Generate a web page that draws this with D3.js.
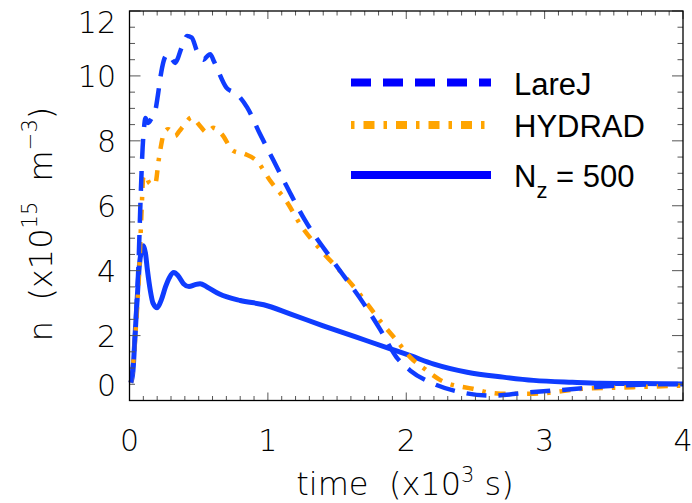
<!DOCTYPE html>
<html>
<head>
<meta charset="utf-8">
<script src="https://cdn.jsdelivr.net/npm/d3@7"></script>
<style>
  body { margin: 0; background: #fff; }
  .axis-font { font-family: "DejaVu Sans", sans-serif; font-weight: 200; fill: #000; }
  .legend-font { font-family: "Liberation Sans", Arial, sans-serif; fill: #000; }
</style>
</head>
<body>
<svg id="chart" width="692" height="503"></svg>
<script>
// ---------------------------------------------
//  Data, time in 10^3 s, n in 10^15 m^-3
// ---------------------------------------------
const timeLareJ = [0.01, 0.03, 0.05, 0.065, 0.08, 0.095, 0.105, 0.115, 0.135, 0.16, 0.185, 0.205, 0.225, 0.246, 0.27, 0.29, 0.31, 0.33, 0.35, 0.37, 0.39, 0.415, 0.45, 0.487, 0.51, 0.535, 0.56, 0.583, 0.61, 0.63, 0.70, 0.776, 0.85, 0.944, 1.04, 1.16, 1.27, 1.47, 1.69, 1.81, 1.93, 2.03, 2.20, 2.39, 2.61, 2.92, 3.23, 3.52, 4.0];
const nLareJ    = [0.55, 1.3, 2.8, 4.2, 6.2, 7.8, 8.4, 8.7, 8.55, 8.7, 8.9, 9.4, 10.0, 10.45, 10.65, 10.67, 10.5, 10.4, 10.55, 10.8, 11.0, 11.23, 11.18, 10.77, 10.6, 10.5, 10.6, 10.67, 10.45, 10.26, 9.64, 9.44, 9.03, 8.2, 7.4, 6.4, 5.54, 4.3, 3.0, 2.2, 1.33, 0.92, 0.51, 0.26, 0.15, 0.26, 0.36, 0.46, 0.51];

const timeHydrad = [0.01, 0.03, 0.05, 0.07, 0.085, 0.1, 0.115, 0.14, 0.165, 0.186, 0.21, 0.23, 0.246, 0.28, 0.33, 0.36, 0.39, 0.45, 0.50, 0.56, 0.607, 0.668, 0.75, 0.836, 0.92, 1.017, 1.14, 1.23, 1.40, 1.52, 1.66, 1.81, 1.93, 2.03, 2.14, 2.25, 2.48, 2.68, 2.92, 3.28, 3.64, 4.0];
const nHydrad    = [0.55, 1.3, 2.5, 4.0, 5.6, 6.87, 6.95, 6.72, 6.65, 6.67, 7.38, 7.9, 8.2, 8.36, 8.15, 8.3, 8.46, 8.72, 8.51, 8.26, 8.4, 8.2, 7.69, 7.59, 7.38, 6.77, 6.1, 5.45, 4.55, 4.0, 3.3, 2.46, 1.85, 1.33, 0.95, 0.62, 0.36, 0.21, 0.21, 0.36, 0.41, 0.46];

const timeNz = [0.01, 0.025, 0.04, 0.055, 0.07, 0.085, 0.10, 0.115, 0.13, 0.15, 0.17, 0.20, 0.23, 0.26, 0.29, 0.32, 0.35, 0.39, 0.43, 0.47, 0.51, 0.56, 0.65, 0.80, 0.97, 1.16, 1.40, 1.64, 1.88, 2.03, 2.20, 2.44, 2.70, 2.92, 3.20, 3.40, 3.70, 4.00];
const nNz    = [0.55, 0.9, 2.0, 3.1, 4.1, 4.6, 4.77, 4.55, 4.0, 3.4, 3.0, 2.86, 3.1, 3.5, 3.8, 3.94, 3.85, 3.6, 3.51, 3.56, 3.6, 3.5, 3.28, 3.08, 2.95, 2.67, 2.3, 1.95, 1.6, 1.38, 1.12, 0.87, 0.72, 0.62, 0.56, 0.53, 0.52, 0.51];

const xTicks = [0, 1, 2, 3, 4];
const yTicks = [0, 2, 4, 6, 8, 10, 12];

const series = [
  { name: "HYDRAD", t: timeHydrad, n: nHydrad, color: "#ff9f00", legendColor: "#ffa500", dash: "11,9,3.5,9" },
  { name: "LareJ",  t: timeLareJ,  n: nLareJ,  color: "#0f3cff", legendColor: "#0000ff", dash: "20,12" },
  { name: "Nz",     t: timeNz,     n: nNz,     color: "#0f3cff", legendColor: "#0000ff", dash: null }
];

// ---------------------------------------------
//  Layout
// ---------------------------------------------
const svg = d3.select("#chart");
const plotLeft = 129.5, plotRight = 683, plotTop = 11, plotBottom = 400.5;

const x = d3.scaleLinear().domain([0, 4]).range([plotLeft, plotRight]);
const y = d3.scaleLinear().domain([0, 12]).range([plotBottom, plotTop]);

const line = d3.line()
  .x(d => x(d[0]))
  .y(d => y(d[1]))
  .curve(d3.curveMonotoneX);

// solid first, then the dash-dot, then the dashed one
[series[2], series[0], series[1]].forEach(s => {
  svg.append("path")
    .datum(d3.zip(s.t, s.n))
    .attr("d", line)
    .attr("fill", "none")
    .attr("stroke", s.color)
    .attr("stroke-width", s.dash ? 4.5 : 5)
    .attr("stroke-dasharray", s.dash)
    .attr("stroke-linejoin", "round");
});

// ---------------------------------------------
//  Frame and ticks (IDL style, inward on all sides)
// ---------------------------------------------
const tickColor = "#555";
const xMinor = d3.range(0, 4.0001, 0.1);
const yMinor = d3.range(0, 12.0001, 0.5);

xMinor.forEach(v => {
  const major = Math.abs(v - Math.round(v)) < 1e-6;
  const len = major ? 8 : 4.5;
  svg.append("line").attr("x1", x(v)).attr("x2", x(v))
    .attr("y1", plotBottom).attr("y2", plotBottom - len).attr("stroke", tickColor);
  svg.append("line").attr("x1", x(v)).attr("x2", x(v))
    .attr("y1", plotTop).attr("y2", plotTop + len).attr("stroke", tickColor);
});
yMinor.forEach(v => {
  const major = Math.abs(v / 2 - Math.round(v / 2)) < 1e-6;
  const len = major ? 11 : 5.5;
  svg.append("line").attr("x1", plotLeft).attr("x2", plotLeft + len)
    .attr("y1", y(v)).attr("y2", y(v)).attr("stroke", tickColor);
  svg.append("line").attr("x1", plotRight).attr("x2", plotRight - len)
    .attr("y1", y(v)).attr("y2", y(v)).attr("stroke", tickColor);
});

svg.append("rect")
  .attr("x", plotLeft).attr("y", plotTop)
  .attr("width", plotRight - plotLeft).attr("height", plotBottom - plotTop)
  .attr("fill", "none").attr("stroke", "#000").attr("stroke-width", 1.3);

// tick labels
svg.selectAll(".xlab").data(xTicks).enter().append("text")
  .attr("class", "axis-font")
  .attr("x", d => x(d)).attr("y", 451)
  .attr("text-anchor", "middle").attr("font-size", 30)
  .text(d => d);

svg.selectAll(".ylab").data(yTicks).enter().append("text")
  .attr("class", "axis-font")
  .attr("x", 116)
  .attr("y", d => Math.max(plotTop + 22, Math.min(plotBottom - 5, y(d) + 11)))
  .attr("text-anchor", "end").attr("font-size", 30)
  .text(d => d);

// axis titles
const xTitle = svg.append("text").attr("class", "axis-font")
  .attr("x", 405).attr("y", 495).attr("text-anchor", "middle")
  .attr("font-size", 32).attr("xml:space", "preserve");
xTitle.append("tspan").text("time  (x10");
xTitle.append("tspan").attr("font-size", 21).attr("dy", -13).text("3");
xTitle.append("tspan").attr("dy", 13).text(" s)");

const yTitle = svg.append("text").attr("class", "axis-font")
  .attr("transform", "translate(52,224) rotate(-90)")
  .attr("text-anchor", "middle").attr("font-size", 32)
  .attr("xml:space", "preserve");
yTitle.append("tspan").text("n  (x10");
yTitle.append("tspan").attr("font-size", 21).attr("dy", -15).text("15");
yTitle.append("tspan").attr("dy", 15).text("  m");
yTitle.append("tspan").attr("font-size", 21).attr("dy", -15).text("\u22123");
yTitle.append("tspan").attr("dy", 15).text(")");

// ---------------------------------------------
//  Legend
// ---------------------------------------------
const legendRows = [
  { s: series[1], y: 82.5, label: "LareJ" },
  { s: series[0], y: 125, label: "HYDRAD" },
  { s: series[2], y: 175, label: "N" }
];
legendRows.forEach(r => {
  svg.append("line")
    .attr("x1", 351).attr("x2", 491)
    .attr("y1", r.y).attr("y2", r.y)
    .attr("stroke", r.s.legendColor).attr("stroke-width", 8)
    .attr("stroke-dasharray", r.s.name === "HYDRAD" ? "3.5,9,11,9" : r.s.dash);
  const t = svg.append("text").attr("class", "legend-font")
    .attr("x", 514).attr("y", r.y + 12).attr("font-size", 31)
    .attr("xml:space", "preserve");
  t.append("tspan").text(r.label);
  if (r.s.name === "Nz") {
    t.append("tspan").attr("font-size", 22).attr("dy", 11).text("z");
    t.append("tspan").attr("dy", -11).text(" = 500");
  }
});
</script>
</body>
</html>
